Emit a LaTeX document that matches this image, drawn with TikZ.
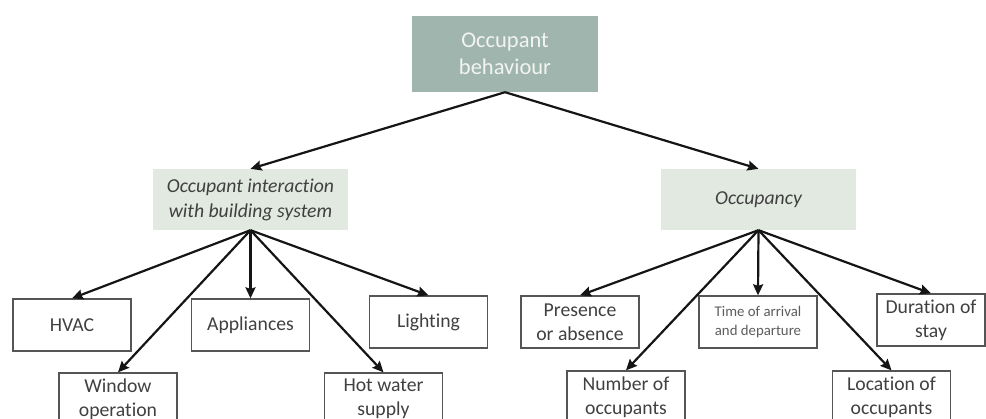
\documentclass[tikz,border=0pt]{standalone}
\usepackage{fontspec}
\setmainfont{Carlito}[Ligatures=NoCommon]
\usetikzlibrary{arrows.meta}
\definecolor{rootfill}{HTML}{9FB5AD}
\definecolor{rootink}{HTML}{F2F4F2}
\definecolor{midfill}{HTML}{E2E9E1}
\definecolor{ink}{HTML}{404040}
\definecolor{rim}{HTML}{555555}
\definecolor{wire}{HTML}{151515}
\begin{document}
\begin{tikzpicture}[x=1pt,y=-1pt,
  root/.style={fill=rootfill, text=rootink, minimum width=186pt, minimum height=76pt,
    align=center, inner sep=0pt, font=\fontsize{22.5}{27.5}\selectfont},
  group/.style={fill=midfill, text=ink, minimum width=195pt, minimum height=61pt,
    align=center, inner sep=0pt, font=\fontsize{19.7}{25}\selectfont\itshape},
  leaf/.style={draw=rim, line width=1.3pt, fill=white, text=ink, minimum width=118pt,
    minimum height=52pt, align=center, inner sep=0pt, font=\fontsize{19.7}{24}\selectfont},
  small/.style={font=\fontsize{14.8}{19}\selectfont, text=ink!85},
  arr/.style={draw=wire, line width=2.2pt, -{Stealth[length=11pt,width=10pt,inset=1.5pt]}}]
\useasboundingbox (0,0) rectangle (986,419);
\clip (0,0) rectangle (986,419);

% top level
\node[root] (ob) at (505,54) {Occupant\\behaviour};

% second level
\node[group] (ib) at (250.5,199.5) {Occupant interaction\\with building system};
\node[group] (oc) at (758.5,199.5) {Occupancy};

% building-system branch
\node[leaf] (hvac) at (72,325) {HVAC};
\node[leaf] (appl) at (250.5,325) {Appliances};
\node[leaf] (light) at (428.5,322) {Lighting};
\node[leaf] (win) at (118,399) {Window\\operation};
\node[leaf] (hw) at (383.5,399) {Hot water\\supply};

% occupancy branch
\node[leaf] (pres) at (580,322) {Presence\\or absence};
\node[leaf, small] (time) at (758,322) {Time of arrival\\and departure};
\node[leaf, minimum width=108pt] (dur) at (931,320) {Duration of\\stay};
\node[leaf] (num) at (626,397) {Number of\\occupants};
\node[leaf] (loc) at (891.5,397) {Location of\\occupants};

% connectors
\draw[arr] (ob.south) -- (ib.north);
\draw[arr] (ob.south) -- (oc.north);

\draw[arr] (ib.south) -- (hvac.north);
\draw[arr] (ib.south) -- (appl.north);
\draw[arr] (ib.south) -- (light.north);
\draw[arr] (ib.south) -- (win.north);
\draw[arr] (ib.south) -- (hw.north);

\draw[arr] (oc.south) -- (pres.north);
\draw[arr] (oc.south) -- (time.north);
\draw[arr] (oc.south) -- (dur.north);
\draw[arr] (oc.south) -- (num.north);
\draw[arr] (oc.south) -- (loc.north);
\end{tikzpicture}
\end{document}
